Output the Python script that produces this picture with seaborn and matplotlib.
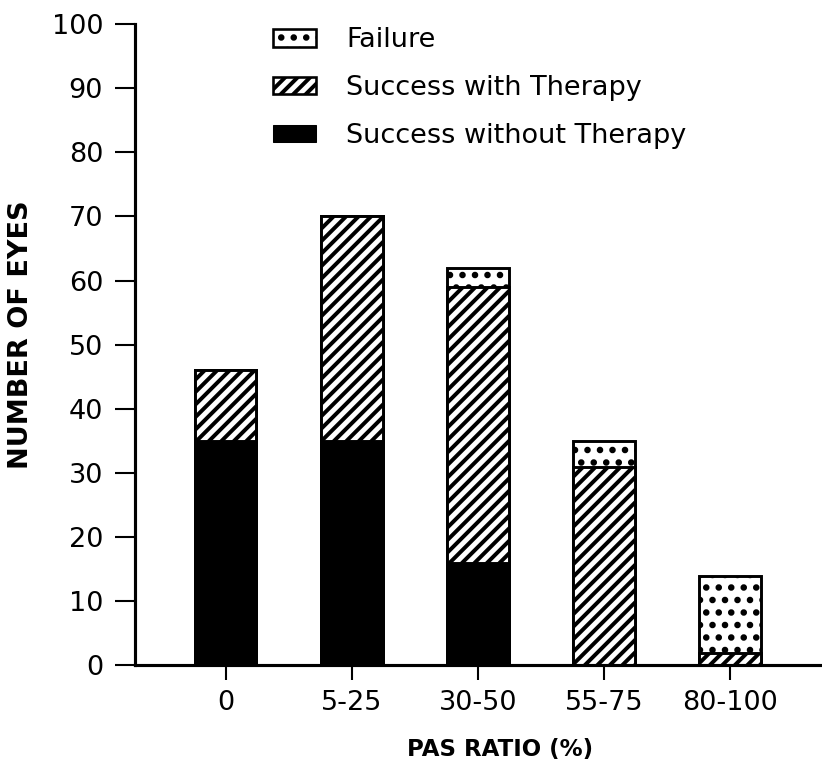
import matplotlib
matplotlib.use("Agg")
import matplotlib.pyplot as plt
import seaborn as sns
import pandas as pd
from matplotlib.patches import Patch

# 数据
groups = ["0", "5-25", "30-50", "55-75", "80-100"]
success_without = [35, 35, 16, 0, 0]
success_with = [11, 35, 43, 31, 2]
failure = [0, 0, 3, 4, 12]

df = pd.DataFrame({"ratio": groups,
                   "without": success_without,
                   "with": success_with,
                   "failure": failure})
df["top_with"] = df["without"] + df["with"]
df["top_fail"] = df["top_with"] + df["failure"]

sns.set_style("ticks", {"text.color": "black", "axes.labelcolor": "black",
                        "xtick.color": "black", "ytick.color": "black",
                        "axes.edgecolor": "black"})
plt.rcParams["font.family"] = ["DejaVu Sans"]
plt.rcParams["hatch.linewidth"] = 3.8
plt.rcParams["hatch.color"] = "black"

fig = plt.figure(figsize=(822 / 75, 763 / 75), dpi=75)
ax = fig.add_axes([0.164, 0.128, 0.836, 0.8405])

# 从上往下叠加绘制
layers = [("top_fail", "white", ".", "Failure"),
          ("top_with", "white", "//", "Success with Therapy"),
          ("without", "black", None, "Success without Therapy")]
for col, fc, hatch, lab in layers:
    n0 = len(ax.patches)
    sns.barplot(data=df, x="ratio", y=col, color=fc, width=0.49,
                edgecolor="black", linewidth=2.8, saturation=1, ax=ax)
    for p in ax.patches[n0:]:
        p.set_facecolor(fc)
        if hatch:
            p.set_hatch(hatch)

ax.set_xlim(-0.72, 4.73)
ax.set_ylim(0, 100)
ax.set_yticks(range(0, 101, 10))
sns.despine(ax=ax)
ax.spines["left"].set_linewidth(3)
ax.spines["bottom"].set_linewidth(3)
ax.tick_params(axis="both", width=2, labelsize=26, direction="out")
ax.tick_params(axis="x", length=14.5, pad=9.5)
ax.tick_params(axis="y", length=19, pad=11.5)

ax.set_xlabel("PAS RATIO (%)", fontsize=22, fontweight="bold")
ax.set_ylabel("NUMBER OF EYES", fontsize=26, fontweight="bold")
ax.xaxis.set_label_coords(0.531, -0.114)
ax.yaxis.set_label_coords(-0.146, 0.515)

handles = [Patch(facecolor="white", edgecolor="black", hatch=".", linewidth=2.5),
           Patch(facecolor="white", edgecolor="black", hatch="//", linewidth=2.5),
           Patch(facecolor="black", edgecolor="black")]
labels = ["Failure", "Success with Therapy", "Success without Therapy"]
fig.legend(handles, labels, loc="upper left", bbox_to_anchor=(0.332, 0.964),
           frameon=False, fontsize=26, handlelength=1.6, handleheight=0.6,
           labelspacing=0.8, handletextpad=1.1, borderpad=0, borderaxespad=0)

fig.savefig("out.png", dpi=75)
